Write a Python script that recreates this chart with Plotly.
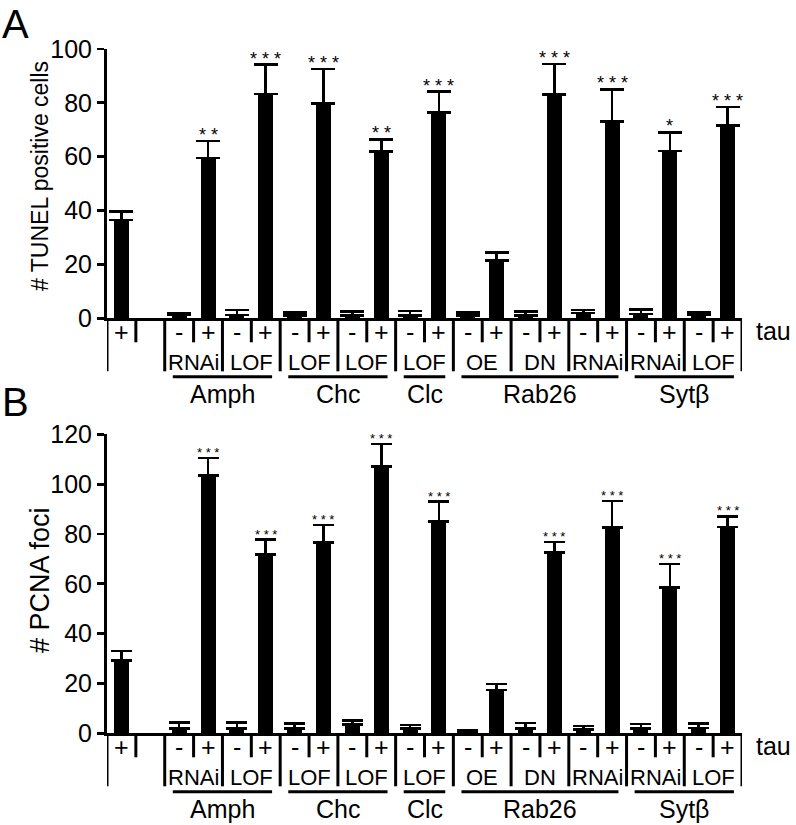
import plotly.graph_objects as go

W, H = 796, 825
FONT = "Liberation Sans, Arial, Helvetica, sans-serif"

# ---------------- data ----------------
tau_signs = ["+", "", "-", "+", "-", "+", "-", "+", "-", "+", "-", "+",
             "-", "+", "-", "+", "-", "+", "-", "+", "-", "+"]
pair_labels = ["RNAi", "LOF", "LOF", "LOF", "LOF", "OE", "DN", "RNAi", "RNAi", "LOF"]
gene_labels = ["Amph", "Chc", "Clc", "Rab26", "Sytβ"]
gene_pairs = [2, 2, 1, 3, 2]

tunel_mean = [36.5, None, 1.2, 59.5, 1.2, 83.3, 1.0, 79.8, 1.0, 61.9, 1.0, 76.4,
              1.0, 21.4, 1.0, 83.1, 1.9, 73.1, 1.6, 62.2, 1.2, 71.6]
tunel_sem = [3.1, None, 0.7, 6.3, 1.9, 10.9, 1.2, 12.8, 1.5, 4.6, 1.7, 7.8,
             1.2, 3.0, 1.5, 11.4, 1.2, 11.9, 1.7, 6.8, 1.0, 6.8]
tunel_stars = ["", "", "", "**", "", "***", "", "***", "", "**", "", "***",
               "", "", "", "***", "", "***", "", "*", "", "***"]
tunel_ticks = [0, 20, 40, 60, 80, 100]

pcna_mean = [29.1, None, 2.0, 103.5, 2.0, 71.8, 2.0, 76.5, 3.5, 107.0, 2.0, 84.9,
             0.6, 17.4, 2.0, 72.5, 1.5, 82.6, 2.0, 58.6, 2.2, 82.8]
pcna_sem = [3.9, None, 2.3, 7.0, 2.3, 5.9, 2.0, 7.1, 1.7, 9.1, 1.3, 8.1,
            0.6, 2.4, 2.2, 4.3, 1.4, 10.7, 1.7, 9.3, 1.8, 4.3]
pcna_stars = ["", "", "", "***", "", "***", "", "***", "", "***", "", "***",
              "", "", "", "***", "", "***", "", "***", "", "***"]
pcna_ticks = [0, 20, 40, 60, 80, 100, 120]

panels = [
    dict(letter="A", title="# TUNEL positive cells", mean=tunel_mean, sem=tunel_sem,
         stars=tunel_stars, ticks=tunel_ticks, top_px=49.0, bot_px=318.3,
         title_font=23, title_y_px=176, letter_top_px=0, star_font=18, star_shift=-6,
         cap=12),
    dict(letter="B", title="# PCNA foci", mean=pcna_mean, sem=pcna_sem,
         stars=pcna_stars, ticks=pcna_ticks, top_px=434.3, bot_px=733.3,
         title_font=27, title_y_px=580, letter_top_px=378, star_font=13, star_shift=-4,
         cap=10.5),
]

# ---------------- layout helpers ----------------
X_LEFT_PX, X_RIGHT_PX = 107.0, 742.0
n = len(tau_signs)
xs = list(range(n))
x_dom = [X_LEFT_PX / W, X_RIGHT_PX / W]


def py(px):
    """pixel row -> paper y"""
    return 1 - px / H


def px_x(px):
    return px / W


fig = go.Figure()
shapes = []
annotations = []

for k, p in enumerate(panels):
    sfx = "" if k == 0 else str(k + 1)
    xref, yref = "x" + sfx, "y" + sfx
    fig.add_trace(go.Bar(
        x=xs, y=p["mean"], width=0.52,
        marker=dict(color="black", line=dict(width=0)),
        error_y=dict(type="data", symmetric=False,
                     array=[s if s is not None else 0 for s in p["sem"]],
                     arrayminus=[0] * n, color="black", thickness=2.6, width=p["cap"]),
        xaxis=xref, yaxis=yref, showlegend=False, hoverinfo="skip",
    ))
    ymax = p["ticks"][-1]
    lay_x = dict(domain=x_dom, range=[-0.5, n - 0.5], showline=True, linecolor="black",
                 linewidth=3, showticklabels=False, ticks="", showgrid=False,
                 zeroline=False, anchor=yref, fixedrange=True, automargin=False)
    lay_y = dict(domain=[py(p["bot_px"]), py(p["top_px"])], range=[0, ymax],
                 tickvals=p["ticks"], ticks="outside", ticklen=7, tickwidth=2.8,
                 tickcolor="black", showline=True, linecolor="black", linewidth=3,
                 showgrid=False, zeroline=False, anchor=xref, automargin=False,
                 tickfont=dict(family=FONT, size=25, color="black"), fixedrange=True)
    fig.layout["xaxis" + sfx] = lay_x
    fig.layout["yaxis" + sfx] = lay_y

    # significance stars
    for i in xs:
        if p["stars"][i]:
            annotations.append(dict(
                x=i, y=p["mean"][i] + p["sem"][i], xref=xref, yref=yref,
                text=" ".join(p["stars"][i]), showarrow=False, yanchor="bottom",
                yshift=p["star_shift"],
                font=dict(family=FONT, size=p["star_font"], color="black")))

    # y-axis title & panel letter
    annotations.append(dict(x=px_x(40), y=py(p["title_y_px"]), xref="paper", yref="paper",
                            text=p["title"], textangle=-90, showarrow=False,
                            xanchor="center", yanchor="middle",
                            font=dict(family=FONT, size=p["title_font"], color="black")))
    annotations.append(dict(x=px_x(0), y=py(p["letter_top_px"]), xref="paper", yref="paper",
                            text=p["letter"], showarrow=False, xanchor="left",
                            yanchor="top",
                            font=dict(family=FONT, size=40, color="black")))

    # ---- table under the axis ----
    base = p["bot_px"]
    row1 = base + 14
    short_end = base + 24
    row2 = base + 44
    long_end = base + 53
    uline = base + 58.5
    grow = base + 76

    xline = dict(color="black", width=3)
    # separators between slots
    for b in range(n + 1):
        xb = b - 0.5
        is_long = (b % 2 == 0)
        shapes.append(dict(type="line", xref=xref, yref="paper", x0=xb, x1=xb,
                           y0=py(base), y1=py(long_end if is_long else short_end),
                           line=xline, layer="above"))
    # tau signs
    for i in xs:
        if tau_signs[i]:
            annotations.append(dict(x=i, y=py(row1), xref=xref, yref="paper",
                                    text=tau_signs[i], showarrow=False,
                                    yanchor="middle",
                                    font=dict(family=FONT, size=25, color="black")))
    annotations.append(dict(x=px_x(X_RIGHT_PX + 12), y=py(row1 - 1), xref="paper",
                            yref="paper", text="tau", showarrow=False, xanchor="left",
                            yanchor="middle",
                            font=dict(family=FONT, size=25, color="black")))
    # pair labels
    for j, lab in enumerate(pair_labels):
        annotations.append(dict(x=2.5 + 2 * j, y=py(row2), xref=xref, yref="paper",
                                text=lab, showarrow=False, yanchor="middle",
                                font=dict(family=FONT, size=22, color="black")))
    # gene groups
    p0 = 0
    for g, npair in zip(gene_labels, gene_pairs):
        x0 = 1.5 + 2 * p0 + 0.28
        x1 = 1.5 + 2 * (p0 + npair) - 0.28
        shapes.append(dict(type="line", xref=xref, yref="paper", x0=x0, x1=x1,
                           y0=py(uline), y1=py(uline), line=dict(color="black", width=3)))
        annotations.append(dict(x=(x0 + x1) / 2, y=py(grow), xref=xref, yref="paper",
                                text=g, showarrow=False, yanchor="middle",
                                font=dict(family=FONT, size=25, color="black")))
        p0 += npair

fig.update_layout(
    width=W, height=H, margin=dict(l=0, r=0, t=0, b=0, pad=0, autoexpand=False),
    paper_bgcolor="white", plot_bgcolor="white",
    shapes=shapes, annotations=annotations, bargap=0,
    font=dict(family=FONT, color="black"),
)

fig.write_html("out.html", config={"displayModeBar": False, "staticPlot": True},
               post_script="document.body.style.margin='0';document.body.style.overflow='hidden';")
